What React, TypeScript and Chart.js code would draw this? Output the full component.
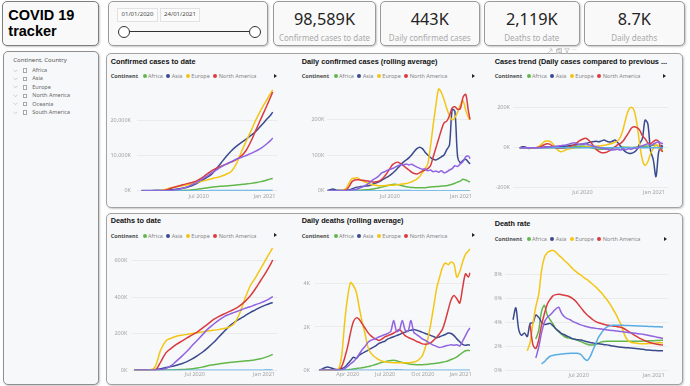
import React, { useEffect, useRef } from 'react';
import { Chart, registerables } from 'chart.js';
Chart.register(...registerables);

// ---------- data ----------
const CONTINENTS = ['Africa', 'Asia', 'Europe', 'North America', 'Oceania', 'South America'];
const LEGEND_SHOWN = ['Africa', 'Asia', 'Europe', 'North America'];
const COLORS = ['#62B74A', '#3B4A8E', '#F3C614', '#D93B3F', '#5AACE4', '#9063E0'];

const KPI_VALUES = ['98,589K', '443K', '2,119K', '8.7K'];
const KPI_LABELS = ['Confirmed cases to date', 'Daily confirmed cases', 'Deaths to date', 'Daily deaths'];
const DATE_FROM = '01/01/2020';
const DATE_TO = '24/01/2021';

// day numbers counted from 1 Jan 2020
const BIWEEK_DAYS = [21, 35, 49, 63, 77, 91, 105, 119, 133, 147, 161, 175, 189, 203, 217, 231, 245, 259, 273, 287, 301, 315, 329, 343, 357, 371, 385, 389];
const WEEK_DAYS = [21, 28, 35, 42, 49, 56, 63, 70, 77, 84, 91, 98, 105, 112, 119, 126, 133, 140, 147, 154, 161, 168, 175, 182, 189, 196, 203, 210, 217, 224, 231, 238, 245, 252, 259, 266, 273, 280, 287, 294, 301, 308, 315, 322, 329, 336, 343, 350, 357, 364, 371, 378, 385, 389];

const X_TICKS_2 = [182, 366];
const X_LABELS_2 = ['Jul 2020', 'Jan 2021'];
const X_TICKS_4 = [91, 182, 274, 366];
const X_LABELS_4 = ['Apr 2020', 'Jul 2020', 'Oct 2020', 'Jan 2021'];

// Confirmed cases to date (K)
const CONF_AF = [0, 0, 0, 0, 0.5, 6, 18, 35, 70, 130, 230, 380, 560, 780, 1000, 1150, 1270, 1380, 1480, 1600, 1750, 1920, 2100, 2330, 2600, 3000, 3400, 3500];
const CONF_AS = [1, 60, 80, 95, 110, 160, 280, 420, 620, 900, 1300, 2000, 2800, 3700, 4600, 6200, 8000, 9800, 11400, 12700, 13800, 14800, 15900, 17100, 18700, 20300, 21900, 22500];
const CONF_EU = [0, 0, 0.5, 5, 60, 450, 850, 1100, 1350, 1600, 1850, 2250, 2650, 3000, 3350, 3750, 4150, 4700, 5500, 7600, 11000, 14200, 17300, 20500, 23300, 25800, 28200, 28900];
const CONF_NA = [0, 0, 0, 0.1, 20, 200, 700, 1150, 1550, 1950, 2300, 2750, 3500, 4600, 5600, 6400, 7000, 7600, 8200, 8900, 9900, 11600, 14300, 17600, 20800, 24000, 27300, 28300];
const CONF_OC = [0, 0, 0, 0, 0.3, 5, 7, 8, 8.5, 9, 9.5, 10, 13, 17, 25, 26, 27, 28, 28, 28.5, 29, 29.5, 30, 30.5, 31, 31.5, 32, 32];
const CONF_SA = [0, 0, 0, 0, 5, 30, 90, 250, 550, 1000, 1600, 2300, 3100, 4000, 5000, 5900, 6800, 7600, 8300, 9000, 9500, 10100, 10700, 11400, 12200, 13300, 14600, 15100];

// Daily confirmed cases, rolling average (K)
const DC_AF = [0, 0, 0, 0, 0, 0, 0, 0.1, 0.3, 0.6, 0.8, 1, 1.3, 1.7, 2.5, 3, 4, 5, 6.5, 8, 10, 12, 14, 16, 17.5, 18, 17, 15, 13, 11, 10, 9, 8.5, 8, 8, 8, 8.5, 9.5, 10.5, 11, 11.5, 12, 13, 13.5, 14, 16, 18, 21, 24, 27, 32, 30, 26, 24];
const DC_AS = [0.5, 3, 5, 2, 1, 1, 1.5, 2, 3, 5, 8, 10, 11, 12, 13, 14, 16, 19, 22, 25, 29, 34, 38, 43, 49, 56, 64, 72, 80, 86, 92, 100, 110, 118, 122, 118, 108, 100, 93, 88, 86, 90, 95, 100, 115, 128, 228, 222, 95, 78, 85, 88, 80, 75];
const DC_EU = [0, 0, 0, 0, 0.2, 0.5, 2, 8, 22, 33, 35, 36, 31, 27, 24, 21, 18, 16, 15, 14, 14, 14, 15, 15, 15, 16, 17, 18, 19, 20, 22, 25, 28, 33, 40, 50, 62, 75, 125, 185, 240, 285, 275, 255, 230, 210, 198, 205, 220, 240, 252, 225, 205, 198];
const DC_NA = [0, 0, 0, 0, 0, 0.1, 0.5, 3, 12, 25, 30, 31, 30, 29, 28, 27, 26, 24, 25, 27, 32, 40, 50, 62, 73, 78, 80, 76, 70, 64, 58, 52, 48, 47, 50, 55, 58, 62, 70, 95, 120, 145, 170, 190, 195, 210, 232, 235, 228, 230, 262, 270, 222, 200];
const DC_OC = [0, 0, 0, 0, 0, 0, 0.05, 0.2, 0.35, 0.4, 0.3, 0.15, 0.05, 0.02, 0.02, 0.02, 0.02, 0.03, 0.05, 0.1, 0.15, 0.25, 0.35, 0.45, 0.5, 0.6, 0.6, 0.55, 0.5, 0.4, 0.3, 0.2, 0.15, 0.1, 0.1, 0.1, 0.1, 0.1, 0.1, 0.1, 0.1, 0.1, 0.1, 0.1, 0.1, 0.1, 0.12, 0.12, 0.15, 0.2, 0.2, 0.2, 0.2, 0.2];
const DC_SA = [0, 0, 0, 0, 0, 0, 0.2, 0.5, 1, 2, 3, 5, 8, 11, 15, 20, 26, 32, 36, 42, 50, 53, 57, 60, 62, 66, 70, 73, 72, 75, 72, 74, 70, 66, 63, 60, 61, 56, 58, 53, 55, 52, 56, 50, 53, 58, 62, 70, 68, 75, 82, 95, 97, 90];

// Cases trend (K)
const TR_AF = [0, 0, 0, 0, 0, 0, 0, 0, 0, 0, 0, 0, 0, 0, 0, 0, 0, 0.5, 2, 3, 5, 6, 7, 8, 7, 5, 1, -3, -6, -8, -8, -6, -4, -2, -1, 0, 1, 2, 3, 2, 2, 1, 2, 3, 3, 5, 7, 9, 10, 12, 13, 5, -4, -5];
const TR_AS = [0, 5, 4, -3, -3, -1, 0, 1, 2, 3, 4, 3, 2, 3, 4, 5, 6, 8, 10, 12, 13, 15, 17, 18, 20, 24, 28, 30, 32, 30, 34, 38, 32, 28, 32, 38, 25, 8, -10, -22, -28, -28, -22, -10, 20, 45, 138, 120, -15, -60, -145, -20, 10, 5];
const TR_EU = [0, 0, 0, 0, 0, 0, 0, 5, 18, 30, 34, 32, 22, 2, -12, -20, -17, -10, -6, -4, -2, 0, 1, 2, 3, 4, 5, 6, 7, 8, 10, 12, 15, 18, 22, 28, 35, 55, 95, 150, 190, 202, 185, 120, 20, -60, -88, -70, -30, -5, 15, 5, -15, -12];
const TR_NA = [0, 0, 0, 0, 0, 0, 0, 2, 8, 15, 20, 18, 8, 0, -3, -3, -2, 0, 3, 8, 15, 25, 35, 42, 47, 42, 28, 10, -8, -18, -25, -25, -22, -15, -5, 5, 15, 22, 35, 55, 75, 98, 105, 100, 88, 60, 45, 25, 20, 30, 38, 30, -15, -20];
const TR_OC = [0, 0, 0, 0, 0, 0, 0, 0.2, 0.3, 0.1, -0.1, -0.2, -0.3, -0.1, 0, 0, 0, 0, 0, 0.1, 0.1, 0.2, 0.3, 0.3, 0.2, 0.1, 0, -0.1, -0.2, -0.3, -0.3, -0.2, -0.1, 0, 0, 0, 0, 0, 0, 0, 0, 0, 0, 0, 0, 0, 0, 0, 0, 0.1, 0.1, 0, 0, 0];
const TR_SA = [0, 0, 0, 0, 0, 0, 0, 0, 0, 1, 2, 3, 5, 7, 8, 10, 12, 14, 18, 22, 25, 20, 15, 18, 22, 15, 12, 8, 5, 2, -2, -5, -8, -10, -12, -10, -8, -12, -6, -10, -5, -8, -2, -5, 5, 10, 15, 20, 12, 18, 25, 30, 22, 20];

// Deaths to date (K)
const DT_AF = [0, 0, 0, 0, 0.1, 0.6, 1.2, 1.9, 2.7, 4, 6, 8.5, 12, 18, 25, 30, 35, 39, 42, 45, 48, 51, 54, 58, 63, 72, 83, 87];
const DT_AS = [1, 2, 3, 3.5, 5, 9, 15, 21, 28, 36, 47, 62, 80, 100, 124, 150, 180, 210, 240, 262, 280, 297, 315, 330, 345, 357, 367, 370];
const DT_EU = [0, 0, 0, 1, 22, 110, 160, 175, 186, 191, 196, 201, 205, 210, 214, 218, 222, 228, 236, 256, 310, 390, 460, 505, 555, 605, 655, 667];
const DT_NA = [0, 0, 0, 0.1, 2, 45, 95, 120, 141, 159, 177, 193, 210, 232, 253, 276, 293, 307, 320, 334, 352, 375, 405, 445, 490, 535, 585, 602];
const DT_OC = [0, 0, 0, 0, 0, 0.01, 0.05, 0.08, 0.1, 0.11, 0.12, 0.12, 0.13, 0.2, 0.35, 0.6, 0.8, 0.9, 0.9, 0.92, 0.93, 0.94, 0.94, 0.95, 0.95, 0.96, 0.97, 0.97];
const DT_SA = [0, 0, 0, 0, 0.5, 3, 10, 25, 50, 76, 104, 135, 165, 196, 226, 250, 273, 292, 305, 316, 327, 338, 347, 358, 368, 380, 397, 403];

// Daily deaths, rolling average (K)
const DD_AF = [0, 0, 0, 0, 0, 0, 0, 0, 0, 0.01, 0.02, 0.04, 0.06, 0.08, 0.1, 0.12, 0.14, 0.17, 0.2, 0.24, 0.28, 0.33, 0.37, 0.4, 0.43, 0.45, 0.46, 0.44, 0.4, 0.36, 0.33, 0.3, 0.28, 0.27, 0.26, 0.26, 0.26, 0.27, 0.28, 0.3, 0.31, 0.33, 0.35, 0.37, 0.4, 0.44, 0.5, 0.55, 0.62, 0.72, 0.82, 0.9, 0.92, 0.9];
const DD_AS = [0.02, 0.05, 0.12, 0.15, 0.12, 0.07, 0.04, 0.04, 0.08, 0.15, 0.3, 0.45, 0.6, 0.55, 0.7, 0.78, 0.85, 0.92, 1.0, 1.07, 1.15, 1.25, 1.3, 1.35, 1.45, 1.5, 1.55, 1.6, 1.65, 1.72, 1.76, 1.82, 1.85, 1.88, 1.85, 1.8, 1.75, 1.7, 1.65, 1.6, 1.55, 1.5, 1.55, 1.6, 1.65, 1.72, 1.7, 1.6, 1.45, 1.32, 1.2, 1.15, 1.18, 1.15];
const DD_EU = [0, 0, 0, 0, 0, 0, 0, 0.1, 0.8, 2.3, 3.4, 4.05, 3.9, 3.6, 2.9, 2.25, 1.7, 1.08, 0.8, 0.66, 0.56, 0.48, 0.42, 0.39, 0.37, 0.36, 0.35, 0.35, 0.35, 0.35, 0.35, 0.35, 0.36, 0.38, 0.42, 0.52, 0.68, 1.05, 1.5, 2.2, 3.0, 3.8, 4.3, 4.75, 4.95, 4.87, 5.0, 4.9, 4.3, 4.55, 5.0, 5.35, 5.5, 5.6];
const DD_NA = [0, 0, 0, 0, 0, 0, 0, 0.02, 0.2, 0.6, 1.1, 1.75, 2.25, 2.42, 2.35, 2.15, 1.95, 1.75, 1.6, 1.5, 1.43, 1.38, 1.45, 1.55, 1.6, 1.65, 1.72, 1.8, 1.88, 1.75, 1.6, 1.52, 1.46, 1.4, 1.33, 1.28, 1.22, 1.2, 1.22, 1.28, 1.4, 1.53, 1.7, 1.9, 2.3, 2.8, 3.25, 3.45, 3.3, 3.1, 3.8, 4.45, 4.3, 4.5];
const DD_OC = [0, 0, 0, 0, 0, 0, 0, 0, 0, 0.002, 0.005, 0.008, 0.006, 0.004, 0.002, 0.001, 0.001, 0.001, 0.001, 0.001, 0.001, 0.002, 0.005, 0.008, 0.012, 0.015, 0.018, 0.02, 0.015, 0.01, 0.006, 0.004, 0.002, 0.001, 0.001, 0.001, 0.001, 0.001, 0.001, 0.001, 0.001, 0.001, 0.001, 0.001, 0.001, 0.001, 0.001, 0.001, 0.001, 0.001, 0.001, 0.001, 0.001, 0.001];
const DD_SA = [0, 0, 0, 0, 0, 0, 0, 0, 0.02, 0.08, 0.18, 0.3, 0.4, 0.55, 0.75, 0.95, 1.1, 1.28, 1.38, 1.43, 1.48, 1.55, 1.6, 1.65, 1.7, 1.8, 2.3, 1.8, 1.85, 2.3, 1.85, 1.8, 2.3, 1.75, 1.65, 1.55, 1.45, 1.38, 1.3, 1.22, 1.15, 1.1, 1.05, 1.08, 1.12, 1.15, 1.18, 1.15, 1.18, 1.12, 1.35, 1.6, 1.85, 1.95];

// Death rate (%)
const N = null;
const DR_AF = [N, N, N, N, N, N, N, N, 2.6, 3.3, 4.9, 5.4, 4.6, 4.2, 3.85, 3.45, 3.2, 3.0, 2.8, 2.7, 2.65, 2.6, 2.55, 2.45, 2.35, 2.25, 2.15, 2.1, 2.1, 2.15, 2.25, 2.35, 2.38, 2.4, 2.4, 2.4, 2.4, 2.4, 2.4, 2.4, 2.4, 2.4, 2.4, 2.4, 2.4, 2.41, 2.42, 2.43, 2.44, 2.45, 2.46, 2.47, 2.48, 2.5];
const DR_AS = [4.2, 5.2, 3.4, 2.9, 3.1, 2.8, 3.9, 3.95, 4.6, 4.4, 4.0, 3.8, 3.85, 3.9, 3.7, 3.45, 3.25, 3.05, 2.95, 2.82, 2.72, 2.6, 2.55, 2.52, 2.5, 2.42, 2.36, 2.3, 2.26, 2.22, 2.2, 2.16, 2.12, 2.1, 2.05, 2.0, 1.96, 1.93, 1.9, 1.88, 1.86, 1.84, 1.82, 1.8, 1.77, 1.74, 1.71, 1.68, 1.66, 1.64, 1.62, 1.61, 1.6, 1.6];
const DR_EU = [N, N, N, N, N, 1.6, 2.3, 3.9, 5.3, 6.3, 8.3, 9.4, 9.8, 9.95, 10.0, 9.85, 9.6, 9.4, 9.15, 8.95, 8.7, 8.45, 8.25, 8.05, 7.9, 7.7, 7.55, 7.35, 7.15, 6.95, 6.7, 6.45, 6.15, 5.85, 5.5, 5.1, 4.7, 4.2, 3.75, 3.0, 2.55, 2.35, 2.28, 2.25, 2.22, 2.2, 2.2, 2.2, 2.22, 2.22, 2.25, 2.27, 2.28, 2.28];
const DR_NA = [N, N, N, N, N, N, 3.8, 2.1, 1.8, 2.5, 3.75, 4.7, 5.5, 5.9, 6.2, 6.3, 6.33, 6.3, 6.25, 6.2, 6.1, 5.95, 5.75, 5.45, 5.15, 4.85, 4.6, 4.4, 4.2, 4.05, 3.95, 3.88, 3.8, 3.75, 3.72, 3.68, 3.65, 3.6, 3.55, 3.45, 3.3, 3.15, 3.0, 2.85, 2.7, 2.58, 2.48, 2.38, 2.3, 2.24, 2.18, 2.14, 2.1, 2.08];
const DR_OC = [N, N, N, N, N, N, N, N, N, N, 0.5, 0.7, 0.95, 1.15, 1.22, 1.27, 1.3, 1.33, 1.36, 1.38, 1.4, 1.4, 1.4, 1.38, 1.25, 0.95, 0.8, 1.1, 1.65, 2.2, 2.75, 3.1, 3.4, 3.6, 3.7, 3.75, 3.75, 3.75, 3.74, 3.73, 3.72, 3.71, 3.7, 3.69, 3.68, 3.67, 3.66, 3.65, 3.64, 3.63, 3.62, 3.61, 3.6, 3.6];
const DR_SA = [N, N, N, N, N, N, N, N, 1.0, 1.9, 3.1, 4.0, 4.4, 4.6, 4.85, 5.1, 5.25, 4.75, 4.45, 4.3, 4.2, 4.05, 3.95, 3.85, 3.75, 3.68, 3.62, 3.56, 3.52, 3.48, 3.45, 3.42, 3.38, 3.35, 3.32, 3.3, 3.27, 3.24, 3.21, 3.18, 3.15, 3.12, 3.1, 3.07, 3.04, 3.0, 2.96, 2.92, 2.87, 2.82, 2.77, 2.72, 2.67, 2.64];

const Y_TICKS_CONF = [0, 10000, 20000];
const Y_LABELS_CONF = ['0K', '10,000K', '20,000K'];
const Y_TICKS_DC = [0, 100, 200];
const Y_LABELS_DC = ['0K', '100K', '200K'];
const Y_TICKS_TR = [-200, 0, 200];
const Y_LABELS_TR = ['-200K', '0K', '200K'];
const Y_TICKS_DT = [0, 200, 400, 600];
const Y_LABELS_DT = ['0K', '200K', '400K', '600K'];
const Y_TICKS_DD = [0, 2, 4];
const Y_LABELS_DD = ['0K', '2K', '4K'];
const Y_TICKS_DR = [0, 2, 4, 6, 8];
const Y_LABELS_DR = ['0%', '2%', '4%', '6%', '8%'];

// ---------- styling ----------
const FONT = "'Noto Sans', 'Open Sans', sans-serif";
const TITLE_FONT = "'Liberation Sans', Arial, sans-serif";
const TICK_COLOR = '#a3a3a3';
const GRID_COLOR = '#ebebeb';
const PANEL_BG = '#f7f8fa';
const FIRST_DAY = 21;
const LAST_DAY = 389;

type LCProps = {
  days: number[];
  series: (number | null)[][];
  plotL: number; plotR: number; x0: number; x1: number;
  zeroY: number; ppu: number; yMin: number; yMax: number;
  yTicks: number[]; yLabels: string[]; xTicks: number[]; xLabels: string[];
  yPad: number; xPad: number; tension: number; monotone?: boolean;
};

function LineChart(p: LCProps) {
  const ref = useRef<HTMLCanvasElement>(null);
  const plotT = p.zeroY - p.yMax * p.ppu;
  const plotB = p.zeroY - p.yMin * p.ppu;
  const left = Math.floor(p.plotL - 32);
  const top = Math.floor(plotT - 6);
  const right = Math.ceil(p.plotR + 4);
  const bottom = Math.ceil(plotB + 12);
  const W = right - left;
  const H = bottom - top;
  useEffect(() => {
    const ppd = (p.x1 - p.x0) / (LAST_DAY - FIRST_DAY);
    const xMin = FIRST_DAY - (p.x0 - p.plotL) / ppd;
    const xMax = LAST_DAY + (p.plotR - p.x1) / ppd;
    const tickFont = { family: FONT, size: 5.5 };
    const chart = new Chart(ref.current as HTMLCanvasElement, {
      type: 'line',
      data: {
        datasets: p.series.map((s, i) => ({
          label: CONTINENTS[i],
          data: p.days.map((d, j) => ({ x: d, y: s[j] })),
          borderColor: COLORS[i],
          backgroundColor: COLORS[i],
          borderWidth: 1.5,
          pointRadius: 0,
          tension: p.tension,
          cubicInterpolationMode: p.monotone ? 'monotone' : 'default',
          spanGaps: false,
          order: 5 - i,
        })) as any,
      },
      options: {
        animation: false,
        responsive: false,
        maintainAspectRatio: false,
        events: [],
        layout: { padding: { left: 0, top: plotT - top, right: right - p.plotR, bottom: 0 } },
        plugins: { legend: { display: false }, tooltip: { enabled: false }, title: { display: false } },
        scales: {
          x: {
            type: 'linear', min: xMin, max: xMax, bounds: 'data',
            grid: { display: false, drawTicks: false },
            border: { display: false },
            afterBuildTicks: (s: any) => { s.ticks = p.xTicks.map((v) => ({ value: v })); },
            afterFit: (s: any) => { s.height = bottom - plotB; },
            ticks: {
              autoSkip: false, maxRotation: 0, padding: p.xPad, color: TICK_COLOR, font: tickFont,
              callback: (_v: any, i: number) => p.xLabels[i],
            },
          },
          y: {
            type: 'linear', min: p.yMin, max: p.yMax, bounds: 'data',
            grid: { color: GRID_COLOR, drawTicks: false, lineWidth: 1 },
            border: { display: false },
            afterBuildTicks: (s: any) => { s.ticks = p.yTicks.map((v) => ({ value: v })); },
            afterFit: (s: any) => { s.width = p.plotL - left; },
            ticks: {
              padding: p.yPad, color: TICK_COLOR, font: tickFont,
              callback: (_v: any, i: number) => p.yLabels[i],
            },
          },
        } as any,
      },
    });
    return () => chart.destroy();
  }, []);
  return <canvas ref={ref} width={W} height={H} style={{ position: 'absolute', left, top, width: W, height: H }} />;
}

function Box(props: { left: number; top: number; width: number; height: number; border?: string; bg?: string; radius?: number }) {
  return (
    <div
      style={{
        position: 'absolute', left: props.left, top: props.top, width: props.width, height: props.height,
        boxSizing: 'border-box', border: `1px solid ${props.border || '#a2a2a2'}`, borderRadius: props.radius ?? 5,
        background: props.bg || PANEL_BG, boxShadow: '1px 1px 2px rgba(0,0,0,0.22)',
      }}
    />
  );
}

function Title(props: { left: number; top: number; text: string }) {
  return (
    <div style={{ position: 'absolute', left: props.left, top: props.top, fontFamily: TITLE_FONT, fontWeight: 700, fontSize: 7.3, lineHeight: '8.76px', color: '#111', whiteSpace: 'nowrap' }}>
      {props.text}
    </div>
  );
}

function Legend(props: { left: number; cy: number; arrowX: number }) {
  return (
    <>
      <div style={{ position: 'absolute', left: props.left, top: props.cy - 4, height: 8, display: 'flex', alignItems: 'center', fontFamily: FONT, fontSize: 5.5, whiteSpace: 'nowrap' }}>
        <span style={{ fontWeight: 700, color: '#4d4d4d', marginRight: 4.6 }}>Continent</span>
        {LEGEND_SHOWN.map((n, i) => (
          <span key={n} style={{ display: 'flex', alignItems: 'center', marginRight: 3.5 }}>
            <span style={{ width: 4, height: 4, borderRadius: 2, background: COLORS[i], marginRight: 1.4 }} />
            <span style={{ color: '#858585' }}>{n}</span>
          </span>
        ))}
      </div>
      <div style={{ position: 'absolute', left: props.arrowX - 1.5, top: props.cy - 2.5, width: 0, height: 0, borderLeft: '3px solid #222', borderTop: '2.5px solid transparent', borderBottom: '2.5px solid transparent' }} />
    </>
  );
}

function Kpi(props: { left: number; width: number; value: string; label: string }) {
  return (
    <>
      <Box left={props.left} top={1} width={props.width} height={45} bg="#f9f9fa" border="#9a9a9a" />
      <div style={{ position: 'absolute', left: props.left, width: props.width, top: 10.3, textAlign: 'center', fontFamily: FONT, fontSize: 16.3, lineHeight: '19.56px', color: '#252423' }}>{props.value}</div>
      <div style={{ position: 'absolute', left: props.left, width: props.width, top: 33, textAlign: 'center', fontFamily: FONT, fontSize: 8, lineHeight: '9.6px', color: '#a9a9a9', whiteSpace: 'nowrap' }}>{props.label}</div>
    </>
  );
}

function HeaderIcons() {
  const s = { position: 'absolute' as const, top: 47.5 };
  return (
    <>
      <svg style={{ ...s, left: 547 }} width={6} height={6}>
        <polyline points="1,5 5,1" stroke="#bdbdbd" strokeWidth={0.8} fill="none" />
        <polyline points="2.5,1 5,1 5,3.5" stroke="#bdbdbd" strokeWidth={0.8} fill="none" />
      </svg>
      <svg style={{ ...s, left: 556 }} width={6} height={6}>
        <rect x={0.5} y={1.5} width={3.5} height={4} stroke="#bdbdbd" strokeWidth={0.8} fill="none" />
        <rect x={2} y={0.5} width={3.5} height={4} stroke="#bdbdbd" strokeWidth={0.8} fill="none" />
      </svg>
      <svg style={{ ...s, left: 564 }} width={6} height={6}>
        <polyline points="0.5,0.8 5.5,0.8 3.5,3 3.5,5.5 2.5,5.5 2.5,3 0.5,0.8" stroke="#bdbdbd" strokeWidth={0.8} fill="none" />
      </svg>
      <div style={{ position: 'absolute', left: 572, top: 45, fontFamily: FONT, fontSize: 6, lineHeight: '7px', color: '#bdbdbd' }}>…</div>
    </>
  );
}

export default function App() {
  const trendSeries = [TR_AF, TR_AS, TR_EU, TR_NA, TR_OC, TR_SA];
  return (
    <div style={{ position: 'fixed', left: 0, top: 0, width: 690, height: 386, background: '#ffffff', overflow: 'hidden' }}>
      {/* Title */}
      <Box left={2} top={1} width={97} height={45} border="#7d7d7d" bg="#f9f9fa" />
      <div style={{ position: 'absolute', left: 8.3, top: 6.6, fontFamily: TITLE_FONT, fontWeight: 700, fontSize: 14.5, lineHeight: '16.7px', color: '#000' }}>
        COVID 19<br />tracker
      </div>

      {/* Date slider */}
      <Box left={108} top={1} width={160} height={45} border="#9a9a9a" bg="#f9f9fa" />
      {[DATE_FROM, DATE_TO].map((d, i) => (
        <div key={d} style={{ position: 'absolute', left: i === 0 ? 116.7 : 160, top: 8.3, width: i === 0 ? 41.6 : 40, height: 13.4, boxSizing: 'border-box', border: '1px solid #e2e2e2', background: '#fbfbfb', fontFamily: FONT, fontSize: 6, lineHeight: '11.4px', textAlign: 'center', color: '#4a4a4a' }}>{d}</div>
      ))}
      <div style={{ position: 'absolute', left: 124, top: 31, width: 131, height: 1.4, background: '#333' }} />
      {[124, 255].map((x) => (
        <div key={x} style={{ position: 'absolute', left: x - 6.2, top: 31.7 - 6.2, width: 12.4, height: 12.4, boxSizing: 'border-box', borderRadius: '50%', border: '1.2px solid #333', background: '#fff' }} />
      ))}

      {/* KPIs */}
      <Kpi left={273} width={103} value={KPI_VALUES[0]} label={KPI_LABELS[0]} />
      <Kpi left={380} width={99.5} value={KPI_VALUES[1]} label={KPI_LABELS[1]} />
      <Kpi left={483.5} width={96.5} value={KPI_VALUES[2]} label={KPI_LABELS[2]} />
      <Kpi left={583.5} width={101.5} value={KPI_VALUES[3]} label={KPI_LABELS[3]} />

      {/* Slicer */}
      <Box left={3} top={51} width={96} height={334} border="#8f8f8f" />
      <div style={{ position: 'absolute', left: 13.3, top: 57.2, fontFamily: FONT, fontSize: 6, lineHeight: '7.2px', color: '#555' }}>Continent, Country</div>
      {CONTINENTS.map((c, i) => {
        const cy = 70.6 + i * 8.4;
        return (
          <React.Fragment key={c}>
            <svg style={{ position: 'absolute', left: 13.3, top: cy - 2 }} width={5} height={4}>
              <polyline points="0.5,0.8 2.5,2.8 4.5,0.8" fill="none" stroke="#c4c4c4" strokeWidth={0.8} />
            </svg>
            <div style={{ position: 'absolute', left: 22.6, top: cy - 2.3, width: 4.6, height: 4.6, boxSizing: 'border-box', border: '0.8px solid #a8a8a8', background: '#fff' }} />
            <div style={{ position: 'absolute', left: 32.3, top: cy - 3.6, fontFamily: FONT, fontSize: 5.5, lineHeight: '6.6px', color: '#666', whiteSpace: 'nowrap' }}>{c}</div>
          </React.Fragment>
        );
      })}

      {/* Chart panels */}
      <Box left={106} top={53} width={577} height={155} />
      <Box left={106} top={212.5} width={577} height={172} />
      <HeaderIcons />

      <Title left={110.7} top={57.6} text="Confirmed cases to date" />
      <Title left={301.7} top={57.6} text="Daily confirmed cases (rolling average)" />
      <Title left={494.7} top={57.6} text="Cases trend (Daily cases compared to previous ..." />
      <Title left={110.7} top={217.1} text="Deaths to date" />
      <Title left={301.7} top={217.1} text="Daily deaths (rolling average)" />
      <Title left={494.7} top={220.4} text="Death rate" />

      <Legend left={110.7} cy={76} arrowX={275.7} />
      <Legend left={301.7} cy={76} arrowX={473.3} />
      <Legend left={494.7} cy={76} arrowX={664.7} />
      <Legend left={110.7} cy={235.7} arrowX={275.7} />
      <Legend left={301.7} cy={235.7} arrowX={473.3} />
      <Legend left={494.7} cy={239} arrowX={665.3} />

      <LineChart days={BIWEEK_DAYS} series={[CONF_AF, CONF_AS, CONF_EU, CONF_NA, CONF_OC, CONF_SA]}
        plotL={136.7} plotR={277.7} x0={141} x1={272.7} zeroY={190.7} ppu={0.00357} yMin={0} yMax={30000}
        yTicks={Y_TICKS_CONF} yLabels={Y_LABELS_CONF} xTicks={X_TICKS_2} xLabels={X_LABELS_2} yPad={5.7} xPad={2} tension={0.4} monotone />
      <LineChart days={WEEK_DAYS} series={[DC_AF, DC_AS, DC_EU, DC_NA, DC_OC, DC_SA]}
        plotL={326.5} plotR={471} x0={327.5} x1={470} zeroY={190.7} ppu={0.357} yMin={0} yMax={300}
        yTicks={Y_TICKS_DC} yLabels={Y_LABELS_DC} xTicks={X_TICKS_2} xLabels={X_LABELS_2} yPad={2.2} xPad={2} tension={0.3} />
      <LineChart days={WEEK_DAYS} series={trendSeries}
        plotL={513} plotR={668} x0={519.7} x1={663} zeroY={147.7} ppu={0.2} yMin={-205} yMax={250}
        yTicks={Y_TICKS_TR} yLabels={Y_LABELS_TR} xTicks={X_TICKS_2} xLabels={X_LABELS_2} yPad={3} xPad={0.7} tension={0.3} />
      <LineChart days={BIWEEK_DAYS} series={[DT_AF, DT_AS, DT_EU, DT_NA, DT_OC, DT_SA]}
        plotL={131.7} plotR={277.7} x0={134.3} x1={272.7} zeroY={370.3} ppu={0.1845} yMin={0} yMax={680}
        yTicks={Y_TICKS_DT} yLabels={Y_LABELS_DT} xTicks={X_TICKS_2} xLabels={X_LABELS_2} yPad={4.4} xPad={0.8} tension={0.4} monotone />
      <LineChart days={WEEK_DAYS} series={[DD_AF, DD_AS, DD_EU, DD_NA, DD_OC, DD_SA]}
        plotL={315} plotR={470.7} x0={319} x1={470} zeroY={370.3} ppu={22} yMin={0} yMax={5.95}
        yTicks={Y_TICKS_DD} yLabels={Y_LABELS_DD} xTicks={X_TICKS_4} xLabels={X_LABELS_4} yPad={5} xPad={0.8} tension={0.3} />
      <LineChart days={WEEK_DAYS} series={[DR_AF, DR_AS, DR_EU, DR_NA, DR_OC, DR_SA]}
        plotL={505.3} plotR={668} x0={513} x1={663} zeroY={370} ppu={12} yMin={0} yMax={10.4}
        yTicks={Y_TICKS_DR} yLabels={Y_LABELS_DR} xTicks={X_TICKS_2} xLabels={X_LABELS_2} yPad={3.3} xPad={1.8} tension={0.3} />
    </div>
  );
}
